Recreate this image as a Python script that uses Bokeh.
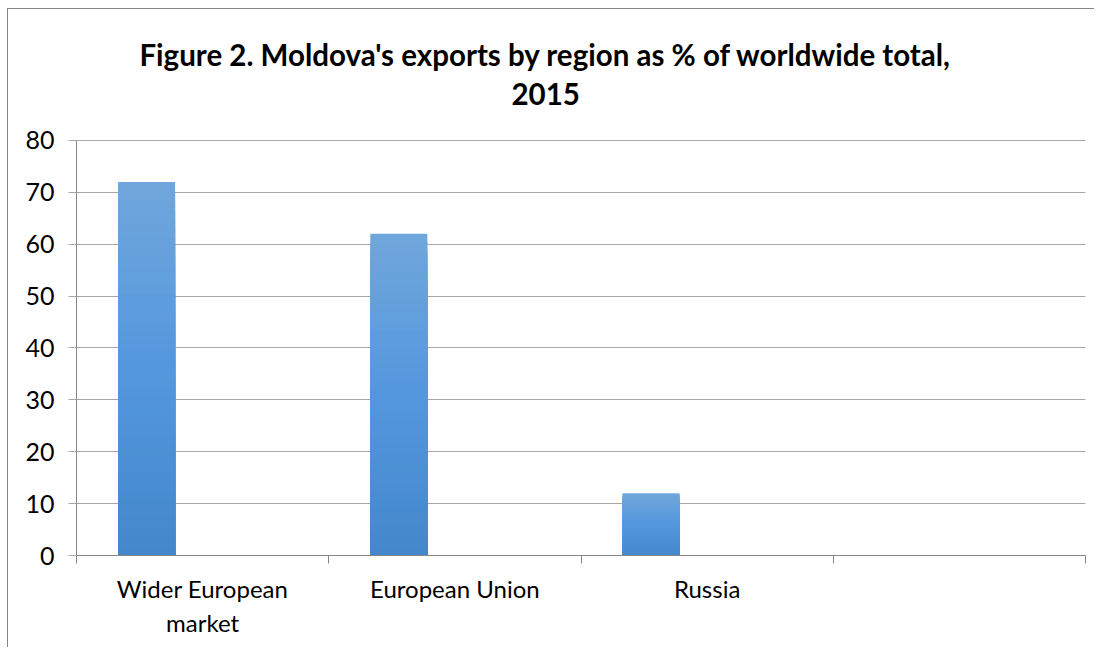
from bokeh.plotting import figure
from bokeh.models import FixedTicker, Range1d, ColumnDataSource, Label
from bokeh.embed import file_html
from bokeh.resources import INLINE

categories = ["Wider European\nmarket", "European Union", "Russia", ""]
values = [72, 62, 12]
y_ticks = [0, 10, 20, 30, 40, 50, 60, 70, 80]
title_lines = ["Figure 2. Moldova's exports by region as % of worldwide total,", "2015"]

FONT = "Lato"
GRID = "#a6a6a6"
AXIS = "#868686"

# frame extends above the value axis so that the title fits inside it
p = figure(width=1087, height=639, output_backend="svg", toolbar_location=None,
           x_range=Range1d(0, 4), y_range=Range1d(0, 103.9),
           min_border_left=68, min_border_right=10, min_border_top=7, min_border_bottom=93)
p.styles = {"border-left": "1px solid #868686", "border-top": "1px solid #868686",
            "margin-left": "7px", "margin-top": "8px"}
p.outline_line_color = None
p.background_fill_color = "white"

# gradient bars (per bar, light top -> darker bottom); nested bars painted tallest first
stops = [(0.0, (68, 136, 203)), (0.5, (84, 151, 221)), (1.0, (112, 167, 220))]
def col(t):
    for (t0, c0), (t1, c1) in zip(stops[:-1], stops[1:]):
        if t <= t1:
            f = (t - t0) / (t1 - t0)
            return "#%02x%02x%02x" % tuple(int(round(a + (b - a) * f)) for a, b in zip(c0, c1))
    return "#%02x%02x%02x" % stops[-1][1]

n = 40
xs, tops, cols = [], [], []
for k in range(n - 1, -1, -1):
    for i, v in enumerate(values):
        xs.append(i + 0.2778)
        tops.append(v * (k + 1) / n)
        cols.append(col((k + 0.5) / n))
src = ColumnDataSource(dict(x=xs, top=tops, color=cols))
p.vbar(x="x", bottom=0, top="top", width=0.2262, source=src,
       fill_color="color", line_color=None)

# axes
p.xgrid.grid_line_color = None
p.ygrid.grid_line_color = GRID
p.ygrid.grid_line_width = 1
p.ygrid.ticker = FixedTicker(ticks=y_ticks)

ya = p.yaxis[0]
ya.ticker = FixedTicker(ticks=y_ticks)
ya.bounds = (y_ticks[0], y_ticks[-1])
ya.axis_line_color = AXIS
ya.major_tick_line_color = GRID
ya.major_tick_out = 8
ya.major_tick_in = 0
ya.minor_tick_line_color = None
ya.major_label_standoff = 14
ya.major_label_text_font = FONT
ya.major_label_text_font_size = "25px"
ya.major_label_text_color = "black"

xa = p.xaxis[0]
xa.ticker = FixedTicker(ticks=[0.5, 1.5, 2.5, 3.5], minor_ticks=[0, 1, 2, 3, 4])
xa.major_label_overrides = {0.5: categories[0], 1.5: categories[1], 2.5: categories[2], 3.5: categories[3]}
xa.axis_line_color = AXIS
xa.major_tick_line_color = None
xa.minor_tick_line_color = AXIS
xa.minor_tick_out = 8
xa.minor_tick_in = 0
xa.major_label_standoff = 10
xa.major_label_text_font = FONT
xa.major_label_text_font_size = "24px"
xa.major_label_text_color = "black"

# title: two centred lines
for txt, yy in zip(title_lines, [96.5, 89.0]):
    p.add_layout(Label(x=1.86, y=yy, text=txt, text_align="center", text_baseline="alphabetic",
                       text_font=FONT, text_font_style="bold", text_font_size="29.5px",
                       text_color="black"))

open("out.html", "w").write(file_html(p, INLINE))
